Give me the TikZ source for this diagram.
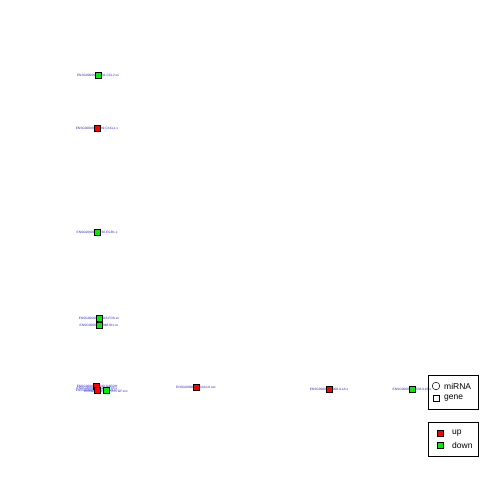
\documentclass[tikz,border=0pt]{standalone}
\usepackage{fontspec}
\setmainfont{Liberation Sans}
\usetikzlibrary{positioning}
\definecolor{UpRed}{RGB}{255,0,0}
\definecolor{DownGreen}{RGB}{0,238,0}
\definecolor{LabelBlue}{RGB}{40,40,200}
\tikzset{
  genebox/.style={draw=black, line width=0.5pt, minimum size=6.5pt, inner sep=0pt},
  upgene/.style={genebox, fill=UpRed},
  downgene/.style={genebox, fill=DownGreen},
  genelabel/.style={text=LabelBlue, font=\fontsize{3.2}{3.2}\selectfont, inner sep=0pt},
  legendbox/.style={draw=black, line width=0.5pt},
  legendtext/.style={font=\fontsize{8.5}{9}\selectfont, anchor=west, inner sep=0pt}
}

\begin{document}
\begin{tikzpicture}[x=1pt, y=-1pt]
      \useasboundingbox (0,0) rectangle (480,480);
      % labels first, squares on top
      \node[genelabel] (l1) at (98,75) {ENSG00000108691.CCL2.xx};
      \node[genelabel] (l2) at (97,128) {ENSG00000163739.CXCL1.x};
      \node[genelabel] (l3) at (97,232) {ENSG00000120738.EGR1.x};
      \node[genelabel] (l4) at (99,318) {ENSG00000170345.FOS.xx};
      \node[genelabel] (l5) at (99,325) {ENSG00000125968.ID1.xx};
      \node[genelabel] (l6) at (97,386.5) {ENSG00000111640.GAPDH};
      \node[genelabel] (l7) at (97,388.5) {ENSG00000075624.ACTB.x};
      \node[genelabel] (l8) at (96,390.5) {ENSG00000105974.CAV1.x};
      \node[genelabel] (l9) at (106,391) {ENSG00000118523.CTGF.xxx};
      \node[genelabel] (l10) at (196,387) {ENSG00000136244.IL6.xxx};
      \node[genelabel] (l11) at (329,389) {ENSG00000115008.IL1A.x};
      \node[genelabel] (l12) at (412,389) {ENSG00000125538.IL1B.x};
      \node[downgene] (g1) at (98,75) {};
      \node[upgene] (g2) at (97,128) {};
      \node[downgene] (g3) at (97,232) {};
      \node[downgene] (g4) at (99,318) {};
      \node[downgene] (g5) at (99,325) {};
      \node[upgene] (g6) at (96,386) {};
      \node[upgene] (g7) at (97,390) {};
      \node[downgene] (g8) at (106,390) {};
      \node[upgene] (g9) at (196,387) {};
      \node[upgene] (g10) at (329,389) {};
      \node[downgene] (g11) at (412,389) {};
      % legends
      \node[legendbox, minimum width=50pt, minimum height=34pt] (shapekey) at (453,392) {};
      \draw[line width=0.5pt] (436,386) circle (3.8);
      \node[legendtext] (mirna) at (444,386) {miRNA};
      \node[genebox, fill=white] (genekey) at (436,398) {};
      \node[legendtext] (gene) at (444,398) {gene};
      \node[legendbox, minimum width=50pt, minimum height=34pt] (colourkey) at (453,439) {};
      \node[upgene, minimum size=6pt] (upkey) at (440,433) {};
      \node[legendtext] (up) at (452,433) {up};
      \node[downgene, minimum size=6pt] (downkey) at (440,445) {};
      \node[legendtext] (down) at (452,445) {down};
    \end{tikzpicture}
\end{document}
